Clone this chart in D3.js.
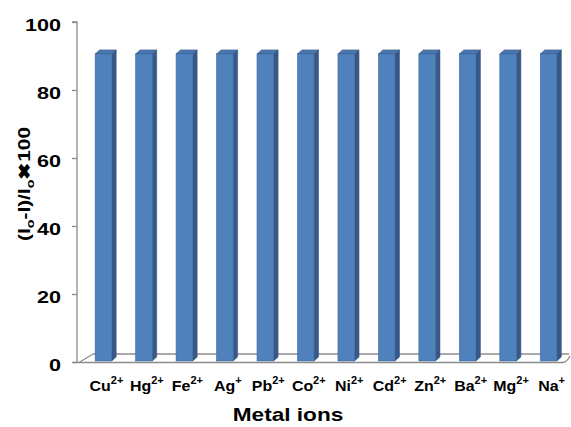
<!DOCTYPE html>
<html><head><meta charset="utf-8">
<script src="https://cdn.jsdelivr.net/npm/d3@7"></script>
<style>body{margin:0;background:#fff}svg{display:block}</style>
</head><body>
<svg id="c" width="571" height="427"></svg>
<script>
const ions = ["Cu","Hg","Fe","Ag","Pb","Co","Ni","Cd","Zn","Ba","Mg","Na"];
const charges = ["2+","2+","2+","+","2+","2+","2+","2+","2+","2+","2+","+"];
const values = [90.6,90.6,90.6,90.6,90.6,90.6,90.6,90.6,90.6,90.6,90.6,90.6];
const yTicks = [0,20,40,60,80,100];

const svg = d3.select("#c");
const font = "Arial, 'Liberation Sans', sans-serif";
const y0 = 362, yTop = 22;
const y = d3.scaleLinear().domain([0,100]).range([y0, yTop]);
const x = d3.scaleBand().domain(d3.range(ions.length)).range([83, 569]).paddingInner(0.59).paddingOuter(0.3);
const dx = 4.5, dy = 4;

// floor
const g = svg.append("g").attr("stroke","#8c8c8c").attr("fill","none").attr("stroke-width",1.3);
g.append("line").attr("x1",93).attr("y1",354).attr("x2",569).attr("y2",354);
g.append("line").attr("x1",73).attr("y1",362.5).attr("x2",563).attr("y2",362.5);
g.append("line").attr("x1",79).attr("y1",362.5).attr("x2",93).attr("y2",354);
g.append("path").attr("d","M563,362.5 Q567,362 570,356");

// y axis
const ax = svg.append("g").attr("transform","translate(77,0)")
  .call(d3.axisLeft(y).tickValues(yTicks).tickSize(5).tickPadding(6).tickFormat(d3.format("d")));
ax.select(".domain").attr("stroke","#8c8c8c").attr("stroke-width",1.3).attr("d",`M-5,${yTop}H0V${y0}`);
ax.selectAll(".tick line").attr("stroke","#8c8c8c").attr("stroke-width",1.3);
ax.selectAll(".tick text").attr("font-family",font)
  .attr("font-weight","bold").attr("font-size",17).attr("fill","#000")
  .attr("dy","0.5em").attr("x",0)
  .attr("transform","translate(-16,0) scale(1.27,1)");

// bars
const bars = svg.append("g").selectAll("g").data(values).join("g");
bars.each(function(v,i){
  const s = d3.select(this);
  const bx = x(i), bw = x.bandwidth(), by = y(v), bb = y0 - 1;
  s.append("path").attr("d",`M${bx+bw},${by}L${bx+bw+dx},${by-dy}L${bx+bw+dx},${bb-dy}L${bx+bw},${bb}Z`)
    .attr("fill","#37598a").attr("stroke","#2f4d78").attr("stroke-width",0.5);
  s.append("path").attr("d",`M${bx},${by}L${bx+dx},${by-dy}L${bx+bw+dx},${by-dy}L${bx+bw},${by}Z`)
    .attr("fill","#4a78b2").attr("stroke","#2f4d78").attr("stroke-width",0.6);
  s.append("rect").attr("x",bx).attr("y",by).attr("width",bw).attr("height",bb-by)
    .attr("fill","#4f81bd").attr("stroke","#41699b").attr("stroke-width",0.6);
});

// x labels
const lab = svg.append("g").selectAll("text").data(ions).join("text")
  .attr("transform",(d,i)=>`translate(${x(i)+x.bandwidth()/2+3},391) scale(1.1,1)`)
  .attr("text-anchor","middle").attr("font-family",font).attr("font-weight","bold").attr("font-size",14.5);
lab.append("tspan").text(d=>d);
lab.append("tspan").attr("dy",-7).attr("font-size",10).text((d,i)=>charges[i]);

// x title
svg.append("text").attr("transform","translate(288,421) scale(1.19,1)").attr("text-anchor","middle")
  .attr("font-family",font).attr("font-weight","bold").attr("font-size",19).text("Metal ions");

// y title
const yt = svg.append("text").attr("transform","translate(30,184) rotate(-90) scale(1.3,1)").attr("text-anchor","middle")
  .attr("font-family",font).attr("font-weight","bold").attr("font-size",16);
yt.append("tspan").text("(I");
yt.append("tspan").attr("dy",4).attr("font-size",11).text("o");
yt.append("tspan").attr("dy",-4).text("-I)/I");
yt.append("tspan").attr("dy",4).attr("font-size",11).text("o");
yt.append("tspan").attr("dy",-4).text("\u2716100");
</script>
</body></html>
